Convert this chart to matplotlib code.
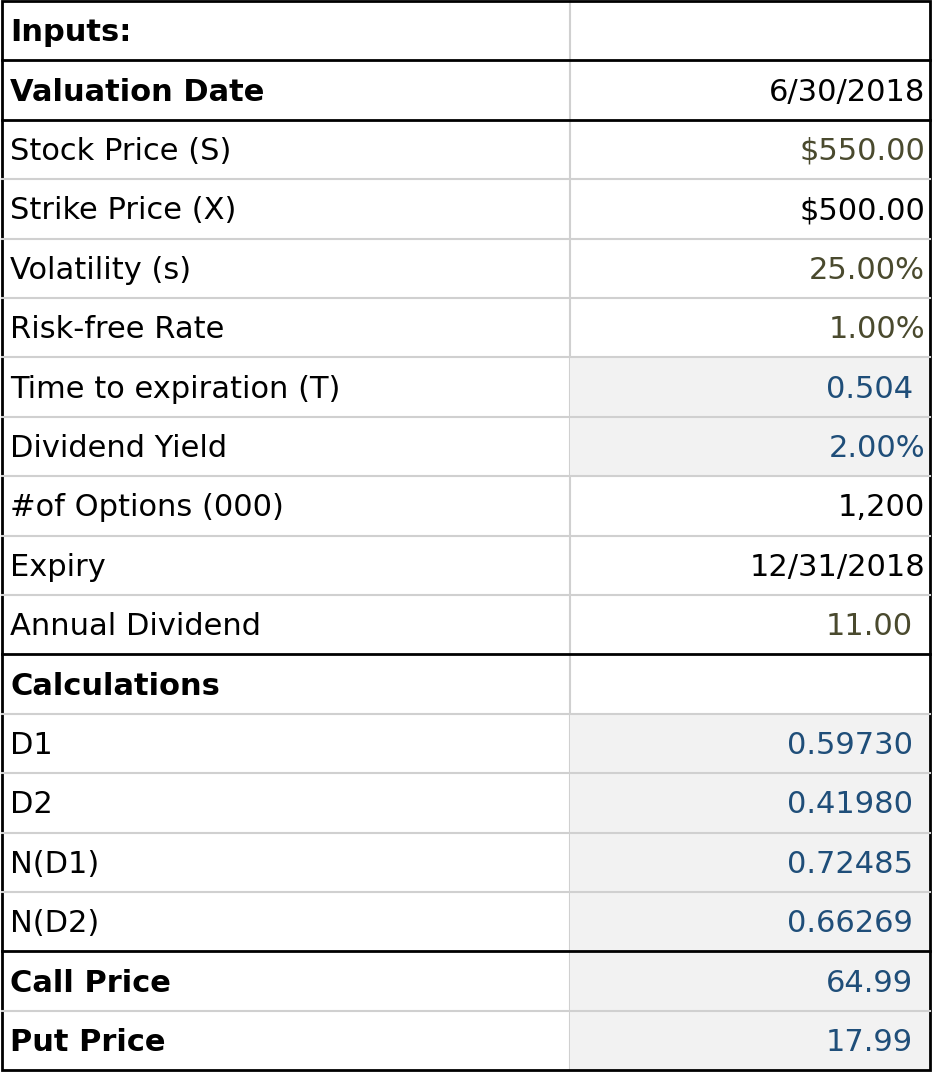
import matplotlib
matplotlib.use("Agg")
import matplotlib.pyplot as plt
from matplotlib.patches import Rectangle

labels = ["Inputs:", "Valuation Date", "Stock Price (S)", "Strike Price (X)", "Volatility (s)",
          "Risk-free Rate", "Time to expiration (T)", "Dividend Yield", "#of Options (000)",
          "Expiry", "Annual Dividend", "Calculations", "D1", "D2", "N(D1)", "N(D2)",
          "Call Price", "Put Price"]
values = ["", "6/30/2018", "$550.00", "$500.00", "25.00%", "1.00%", "0.504", "2.00%", "1,200",
          "12/31/2018", "11.00", "", "0.59730", "0.41980", "0.72485", "0.66269", "64.99", "17.99"]
bold = {0, 1, 11, 16, 17}
olive = {2, 4, 5, 10}
blue = {6, 7, 12, 13, 14, 15, 16, 17}
shaded = {6, 7, 12, 13, 14, 15, 16, 17}
indent = {6, 10, 12, 13, 14, 15, 16, 17}
thick = {1, 2, 11, 16}

W, H = 932, 1072
fig = plt.figure(figsize=(W/100, H/100), dpi=100)
ax = fig.add_axes([0, 0, 1, 1])
ax.set_xlim(0, W); ax.set_ylim(H, 0); ax.axis("off")
x0, xm, x1 = 2, 570, 930
top, rh = 1, 59.4
n = len(labels)
for i in range(n):
    y = top + i*rh
    if i in shaded:
        ax.add_patch(Rectangle((xm, y), x1-xm, rh, color="#f2f2f2", lw=0))
    ax.text(x0+8, y+rh/2+2, labels[i], fontsize=22, va="center", ha="left",
            fontweight="bold" if i in bold else "normal", color="black")
    c = "#4a4a2e" if i in olive else ("#1f4e79" if i in blue else "black")
    ax.text(x1-(17 if i in indent else 5), y+rh/2+2, values[i], fontsize=22, va="center",
            ha="right", color=c)
for i in range(1, n):
    y = top + i*rh
    if i in thick:
        ax.plot([x0, x1], [y, y], color="black", lw=2)
    else:
        ax.plot([x0, x1], [y, y], color="#d0d0d0", lw=1.5)
ax.plot([xm, xm], [top, top+n*rh], color="#d0d0d0", lw=1.5, zorder=0.5)
ax.add_patch(Rectangle((x0, top), x1-x0, n*rh, fill=False, ec="black", lw=2))
fig.savefig("out.png", dpi=100)
